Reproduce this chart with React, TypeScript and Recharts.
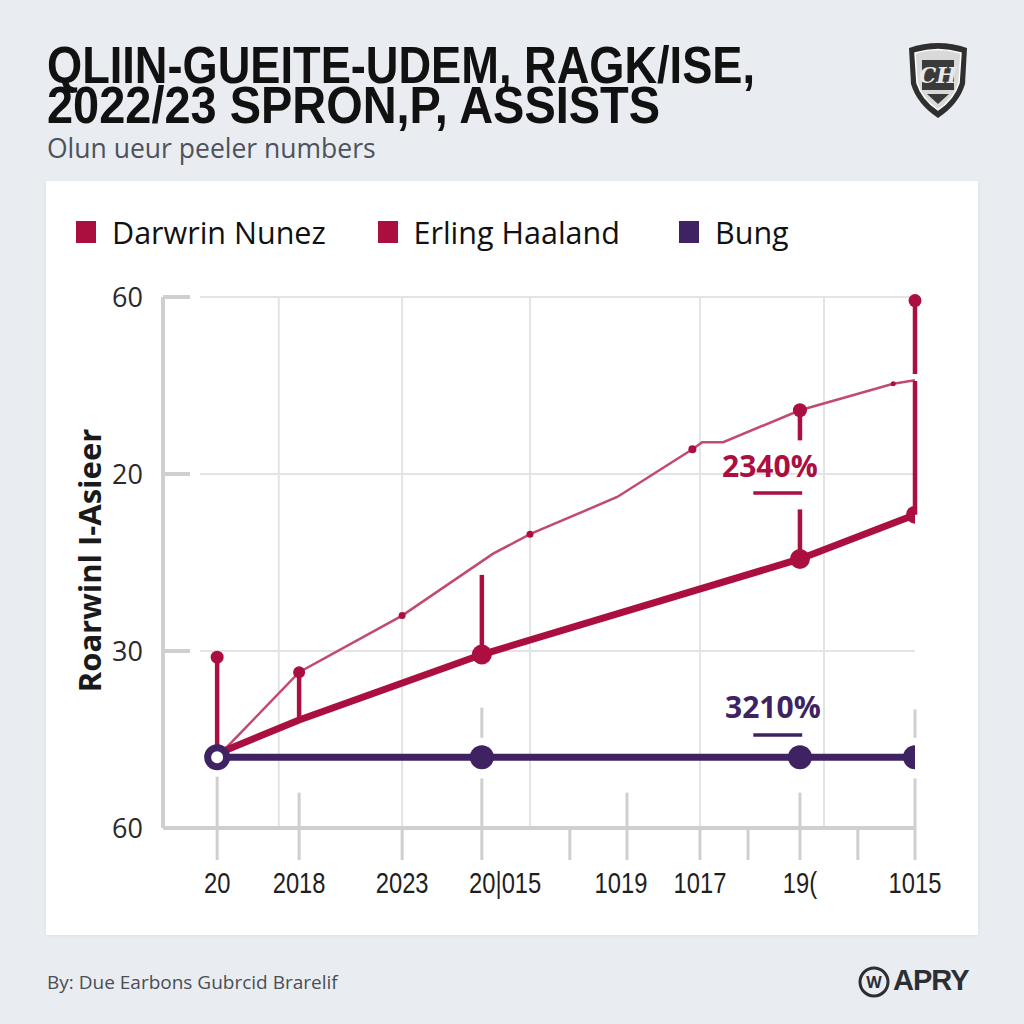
import React from 'react';
import { ComposedChart, Line, XAxis, YAxis, CartesianGrid, ReferenceLine, ReferenceDot } from 'recharts';

// y axis: evenly spaced ticks with the odd labels the source shows (bottom -> top)
const yTickValues = [0, 1, 2, 3];
const yTickLabels = ['60', '30', '20', '60'];

// x axis (0..100 scale): where tick marks sit, where labels sit, and vertical grid lines
const xTickMarks = [7.2, 18.1, 31.8, 42.4, 54.1, 61.7, 71.4, 77.8, 84.7, 92.4, 100];
const xLabelValues = [7.2, 18.1, 31.8, 45.5, 60.9, 71.4, 84.7, 100];
const xLabels = ['20', '2018', '2023', '20|015', '1019', '1017', '19(', '1015'];
const xGridValues = [15.4, 31.8, 48.8, 71.4, 87.9];

const seriesNames = ['Darwrin Nunez', 'Erling Haaland', 'Bung'];

const nunezX = [7.2, 18.1, 42.4, 84.7, 100];
const nunezY = [0.42, 0.61, 0.98, 1.52, 1.77];

const haalandX = [7.2, 18.1, 31.8, 43.9, 48.8, 60.4, 70.4, 71.7, 74.5, 84.7, 97.1, 100];
const haalandY = [0.4, 0.88, 1.2, 1.55, 1.66, 1.87, 2.14, 2.18, 2.18, 2.36, 2.51, 2.53];

const bungX = [7.2, 42.4, 84.7, 100];
const bungY = [0.4, 0.4, 0.4, 0.4];

// crimson stems (x, from, to)
const stemX = [7.2, 18.1, 42.4, 84.7, 84.7, 100, 100];
const stemFrom = [0.4, 0.61, 0.98, 2.19, 1.52, 2.98, 1.77];
const stemTo = [0.965, 0.88, 1.43, 2.36, 1.8, 2.565, 2.525];
const stemCapX = [7.2, 100];
const stemCapY = [0.965, 2.98];

// light grey drop stubs (x, from, to)
const stubX = [7.2, 18.1, 42.4, 42.4, 61.7, 84.7, 100, 100];
const stubFrom = [0, 0, 0, 0.51, 0, 0, 0, 0.51];
const stubTo = [0.29, 0.2, 0.28, 0.68, 0.2, 0.2, 0.28, 0.67];

// annotations
const noteText = ['2340%', '3210%'];
const noteX = [80.7, 81.1];
const noteY = [2.045, 0.684];
const underlineFrom = [78.5, 78.5];
const underlineTo = [85.0, 85.0];
const underlineY = [1.893, 0.525];

const CRIMSON = '#ab0f40';
const PINK = '#c24a6d';
const PURPLE = '#3e2262';
const GREY = '#cfcfcf';
const GRID = '#e4e4e4';

const LIB = "'Liberation Sans', Arial, sans-serif";
const SANS = "'Open Sans', 'Noto Sans', Arial, sans-serif";

const zip = (xs: number[], ys: number[]) => xs.map((x, i) => ({ x, v: ys[i] }));
const nunezData = zip(nunezX, nunezY);
const haalandData = zip(haalandX, haalandY);
const bungData = zip(bungX, bungY);

const haalandDotR = [0, 6, 3.5, 0, 3.5, 0, 4, 0, 0, 7, 2.5, 0];
const nunezDotR = [0, 0, 10, 10, 9];
const bungDotR = [-1, 12, 12, 12];

const makeDot = (sizes: number[], color: string) => (p: any) => {
  const r = sizes[p.index];
  if (r === 0 || p.cx == null) return <g key={`d${p.index}`} />;
  if (r < 0) {
    return <circle key={`d${p.index}`} cx={p.cx} cy={p.cy} r={9.5} fill="#fff" stroke={color} strokeWidth={7} />;
  }
  return <circle key={`d${p.index}`} cx={p.cx} cy={p.cy} r={r} fill={color} />;
};

const YTick = (props: any) => {
  const { x, y, payload } = props;
  const axisX = x + 18;
  return (
    <g>
      <line x1={axisX} x2={axisX + 27} y1={y} y2={y} stroke={GREY} strokeWidth={4} />
      <text x={x - 2} y={y} dy="0.36em" textAnchor="end" fontFamily={SANS} fontSize={27} fill="#2a2a2a">
        {yTickLabels[yTickValues.indexOf(payload.value)]}
      </text>
    </g>
  );
};

const XTick = (props: any) => {
  const { x, y, payload } = props;
  const axisY = y - 40;
  const markIdx = xTickMarks.indexOf(payload.value);
  const labelIdx = xLabelValues.indexOf(payload.value);
  return (
    <g>
      {markIdx >= 0 && <line x1={x} x2={x} y1={axisY} y2={axisY + 32} stroke={GREY} strokeWidth={3} />}
      {labelIdx >= 0 && (
        <text
          transform={`translate(${x}, ${y + 25}) scale(0.82, 1)`}
          textAnchor="middle"
          fontFamily={LIB}
          fontSize={29}
          fill="#1f1f1f"
        >
          {xLabels[labelIdx]}
        </text>
      )}
    </g>
  );
};

const xTicks = Array.from(new Set([...xTickMarks, ...xLabelValues])).sort((a, b) => a - b);

const Shield = () => (
  <svg width={66} height={82} viewBox="0 0 66 82" style={{ position: 'absolute', left: 905, top: 38 }}>
    <path d="M4 10 Q33 0 62 10 L60 46 Q54 66 33 80 Q12 66 6 46 Z" fill="#2f2f2f" />
    <path d="M10 15 Q33 8 56 15 L54 45 Q49 61 33 72 Q17 61 12 45 Z" fill="#d9d9d9" stroke="#ffffff" strokeWidth={1.5} />
    <rect x={17} y={22} width={32} height={30} fill="#3a3a3a" />
    <text x={33} y={45} textAnchor="middle" fontSize={22} fontStyle="italic" fontWeight={700} fill="#e8e8e8" fontFamily="'DejaVu Serif', serif">
      CH
    </text>
    <path d="M22 56 L44 56 L33 66 Z" fill="#3a3a3a" />
  </svg>
);

export default function App() {
  return (
    <div style={{ position: 'absolute', left: 0, top: 0, width: 1024, height: 1024, background: '#e9edf1', overflow: 'hidden' }}>
      <svg width={1024} height={140} style={{ position: 'absolute', left: 0, top: 0 }}>
        <text x={47} y={83} textLength={708} lengthAdjust="spacingAndGlyphs" fontFamily={LIB} fontWeight={700} fontSize={52} fill="#111">
          QLIIN-GUEITE-UDEM, RAGK/ISE,
        </text>
        <text x={47} y={123} textLength={613} lengthAdjust="spacingAndGlyphs" fontFamily={LIB} fontWeight={700} fontSize={52} fill="#111">
          2022/23 SPRON,P, ASSISTS
        </text>
      </svg>
      <div style={{ position: 'absolute', left: 47, top: 134, fontFamily: SANS, fontSize: 26.5, lineHeight: '28px', color: '#4d525c', whiteSpace: 'nowrap' }}>
        Olun ueur peeler numbers
      </div>
      <Shield />

      <div
        style={{
          position: 'absolute',
          left: 46,
          top: 181,
          width: 932,
          height: 754,
          background: '#ffffff',
          boxShadow: '0 1px 4px rgba(0,0,0,0.05)',
        }}
      >
        <div style={{ position: 'absolute', left: 30, top: 30, display: 'flex', alignItems: 'center' }}>
          {seriesNames.map((name, i) => (
            <div key={name} style={{ display: 'flex', alignItems: 'center', gap: 16, width: 301.5 }}>
              <div style={{ width: 20, height: 22, background: i === 2 ? PURPLE : CRIMSON }} />
              <span style={{ fontFamily: SANS, fontSize: 30.5, color: '#111', lineHeight: '42px', whiteSpace: 'nowrap' }}>{name}</span>
            </div>
          ))}
        </div>

        <ComposedChart width={932} height={754} margin={{ top: 116, right: 63, bottom: 47, left: 47 }}>
          <CartesianGrid
            stroke={GRID}
            strokeWidth={2}
            verticalValues={xGridValues}
            horizontalValues={[1, 2, 3]}
            horizontal={(p: any) => (
              <line key={p.key} x1={p.x1 + 37} x2={p.x2} y1={p.y1} y2={p.y2} stroke={GRID} strokeWidth={2} />
            )}
          />
          <XAxis
            dataKey="x"
            type="number"
            domain={[0, 100]}
            ticks={xTicks}
            interval={0}
            height={60}
            tickSize={0}
            tickMargin={40}
            tickLine={false}
            axisLine={{ stroke: GREY, strokeWidth: 4 }}
            tick={<XTick />}
            allowDataOverflow
          />
          <YAxis
            type="number"
            domain={[0, 3]}
            ticks={yTickValues}
            interval={0}
            width={70}
            tickSize={0}
            tickMargin={18}
            tickLine={false}
            axisLine={{ stroke: GREY, strokeWidth: 4 }}
            tick={<YTick />}
            label={{
              content: (p: any) => (
                <text
                  x={p.viewBox.x - 4}
                  y={p.viewBox.y + p.viewBox.height / 2 - 2}
                  transform={`rotate(-90, ${p.viewBox.x - 4}, ${p.viewBox.y + p.viewBox.height / 2 - 2})`}
                  textAnchor="middle"
                  dominantBaseline="central"
                  fontFamily={SANS}
                  fontWeight={700}
                  fontSize={31}
                  fill="#1a1a1a"
                >
                  Roarwinl I-Asieer
                </text>
              ),
            }}
          />

          {stubX.map((x, i) => (
            <ReferenceLine
              key={`stub${i}`}
              segment={[{ x, y: stubFrom[i] }, { x, y: stubTo[i] }]}
              stroke={GREY}
              strokeWidth={3}
            />
          ))}

          <Line data={haalandData} dataKey="v" type="linear" stroke={PINK} strokeWidth={2.5} dot={makeDot(haalandDotR, CRIMSON)} activeDot={false} isAnimationActive={false} />

          {stemX.map((x, i) => (
            <ReferenceLine
              key={`stem${i}`}
              segment={[{ x, y: stemFrom[i] }, { x, y: stemTo[i] }]}
              stroke={CRIMSON}
              strokeWidth={4.5}
            />
          ))}
          {stemCapX.map((x, i) => (
            <ReferenceDot key={`cap${i}`} x={x} y={stemCapY[i]} r={6.5} fill={CRIMSON} stroke="none" />
          ))}
          {underlineY.map((y, i) => (
            <ReferenceLine
              key={`ul${i}`}
              segment={[{ x: underlineFrom[i], y }, { x: underlineTo[i], y }]}
              stroke={i === 0 ? CRIMSON : PURPLE}
              strokeWidth={3.5}
            />
          ))}
          {noteText.map((t, i) => (
            <ReferenceDot
              key={`note${i}`}
              x={noteX[i]}
              y={noteY[i]}
              r={0}
              fill="none"
              stroke="none"
              label={{ value: t, position: 'center', fill: i === 0 ? CRIMSON : PURPLE, fontSize: 30, fontWeight: 700, fontFamily: SANS }}
            />
          ))}

          <Line data={nunezData} dataKey="v" type="linear" stroke={CRIMSON} strokeWidth={7} dot={makeDot(nunezDotR, CRIMSON)} activeDot={false} isAnimationActive={false} />
          <Line data={bungData} dataKey="v" type="linear" stroke={PURPLE} strokeWidth={7} dot={makeDot(bungDotR, PURPLE)} activeDot={false} isAnimationActive={false} />
        </ComposedChart>
      </div>

      <div style={{ position: 'absolute', left: 47, top: 969, fontFamily: SANS, fontSize: 19, color: '#4a4e56', whiteSpace: 'nowrap' }}>
        By: Due Earbons Gubrcid Brarelif
      </div>
      <svg width={34} height={34} viewBox="0 0 34 34" style={{ position: 'absolute', left: 857, top: 965 }}>
        <circle cx={17} cy={17} r={14} fill="none" stroke="#2b2e34" strokeWidth={3} />
        <text x={17} y={23} textAnchor="middle" fontSize={16} fontWeight={700} fill="#2b2e34" fontFamily={SANS}>W</text>
      </svg>
      <div style={{ position: 'absolute', left: 893, top: 964, fontFamily: LIB, fontWeight: 700, fontSize: 29, color: '#2b2e34', letterSpacing: -1 }}>
        APRY
      </div>
    </div>
  );
}
